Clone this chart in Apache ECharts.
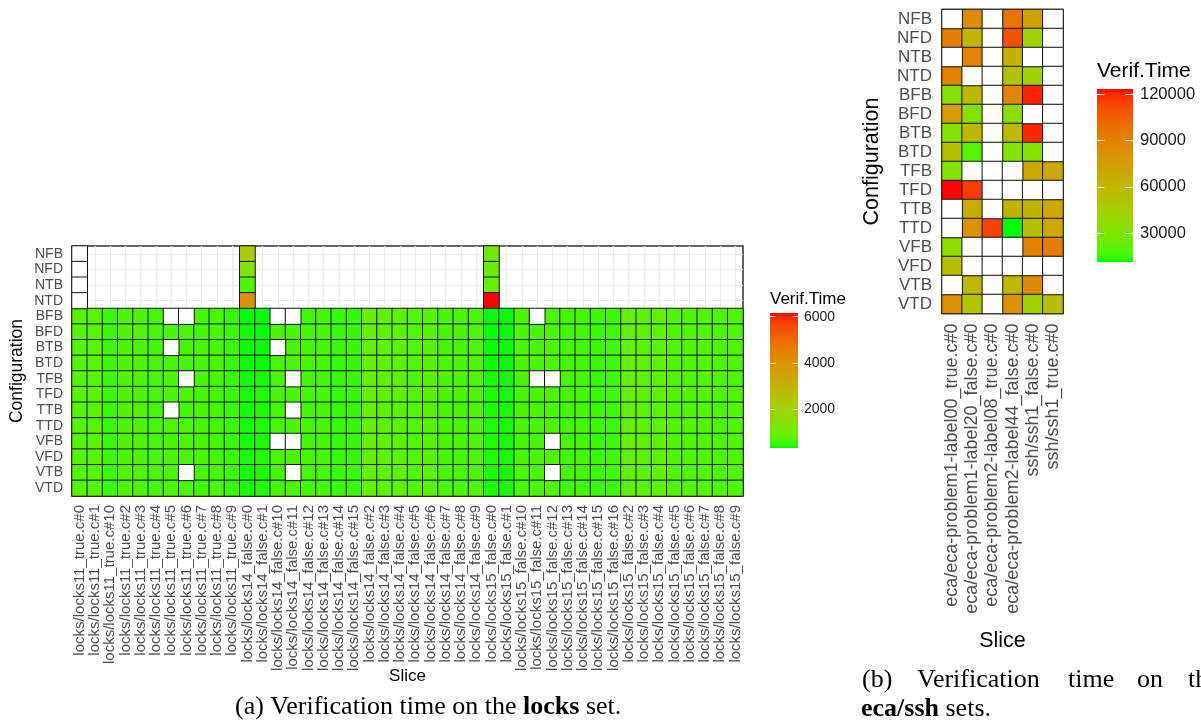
<!DOCTYPE html>
<html>
<head>
<meta charset="utf-8">
<script src="https://cdn.jsdelivr.net/npm/echarts@6/dist/echarts.min.js"></script>
<style>html,body{margin:0;padding:0;background:#fff}#c{width:1201px;height:721px}</style>
</head>
<body>
<div id="c"></div>
<script>
// ---------------- DATA ----------------
const configs = ['NFB','NFD','NTB','NTD','BFB','BFD','BTB','BTD','TFB','TFD','TTB','TTD','VFB','VFD','VTB','VTD'];

const locksSlices = [
  'locks/locks11_true.c#0','locks/locks11_true.c#1','locks/locks11_true.c#10','locks/locks11_true.c#2',
  'locks/locks11_true.c#3','locks/locks11_true.c#4','locks/locks11_true.c#5','locks/locks11_true.c#6',
  'locks/locks11_true.c#7','locks/locks11_true.c#8','locks/locks11_true.c#9',
  'locks/locks14_false.c#0','locks/locks14_false.c#1','locks/locks14_false.c#10','locks/locks14_false.c#11',
  'locks/locks14_false.c#12','locks/locks14_false.c#13','locks/locks14_false.c#14','locks/locks14_false.c#15',
  'locks/locks14_false.c#2','locks/locks14_false.c#3','locks/locks14_false.c#4','locks/locks14_false.c#5',
  'locks/locks14_false.c#6','locks/locks14_false.c#7','locks/locks14_false.c#8','locks/locks14_false.c#9',
  'locks/locks15_false.c#0','locks/locks15_false.c#1','locks/locks15_false.c#10','locks/locks15_false.c#11',
  'locks/locks15_false.c#12','locks/locks15_false.c#13','locks/locks15_false.c#14','locks/locks15_false.c#15',
  'locks/locks15_false.c#16','locks/locks15_false.c#2','locks/locks15_false.c#3','locks/locks15_false.c#4',
  'locks/locks15_false.c#5','locks/locks15_false.c#6','locks/locks15_false.c#7','locks/locks15_false.c#8',
  'locks/locks15_false.c#9'
];

// sparse cells of the N** rows: [slice, config, value] (null = NA, drawn white)
const locksTopCells = [
  ['locks/locks11_true.c#0','NFB',null],['locks/locks11_true.c#0','NFD',null],
  ['locks/locks11_true.c#0','NTB',null],['locks/locks11_true.c#0','NTD',null],
  ['locks/locks14_false.c#0','NFB',2200],['locks/locks14_false.c#0','NFD',1320],
  ['locks/locks14_false.c#0','NTB',620],['locks/locks14_false.c#0','NTD',4000],
  ['locks/locks15_false.c#0','NFB',1090],['locks/locks15_false.c#0','NFD',1030],
  ['locks/locks15_false.c#0','NTB',910],['locks/locks15_false.c#0','NTD',6160]
];

// full rows BFB..VTD, one value per slice (null = NA, drawn white)
const locksBFB = [745,735,515,655,660,605,null,null,590,600,505,330,340,null,null,585,600,520,495,905,835,815,705,735,645,640,635,345,340,640,null,640,600,590,520,535,880,830,825,720,715,720,655,700];
const locksBFD = [740,725,520,650,665,600,630,625,595,600,510,360,345,605,630,590,605,520,500,895,830,820,700,730,640,645,640,350,345,645,630,640,605,590,515,540,885,835,820,725,710,720,650,705];
const locksBTB = [735,730,525,645,655,600,null,620,590,605,510,355,350,null,635,590,600,525,500,900,825,825,695,725,640,640,645,355,350,640,635,645,600,595,520,540,875,830,815,720,705,715,650,700];
const locksBTD = [740,735,520,650,660,595,625,620,590,600,515,365,355,600,630,595,600,520,505,900,830,820,700,730,635,640,640,360,355,640,630,640,600,590,525,545,880,825,820,715,710,720,645,700];
const locksTFB = [745,730,520,655,660,600,630,null,590,600,510,380,395,600,null,590,600,520,500,930,840,830,705,735,640,640,640,395,380,640,null,null,600,590,520,540,895,835,825,720,710,725,650,700];
const locksTFD = [740,730,515,650,660,600,635,625,595,600,505,385,400,605,630,590,600,515,500,910,830,820,700,730,640,640,640,400,380,645,630,640,600,590,520,540,940,850,830,720,715,720,655,705];
const locksTTB = [740,735,520,650,665,600,null,620,590,600,510,390,405,600,null,590,600,520,500,900,830,825,700,730,645,640,640,400,385,640,635,640,605,590,520,540,890,835,820,720,710,720,650,700];
const locksTTD = [735,730,520,645,660,605,630,620,590,600,510,390,410,600,630,590,605,520,500,895,830,820,700,725,640,640,640,400,385,640,630,645,600,590,520,540,885,830,820,720,710,720,650,700];
const locksVFB = [740,730,520,650,660,600,630,620,590,600,510,390,410,null,null,590,600,520,500,905,835,820,700,730,640,640,640,405,385,640,630,null,600,590,520,540,895,840,825,720,710,720,650,700];
const locksVFD = [740,730,525,650,660,600,630,620,590,600,510,395,410,600,630,590,600,520,500,900,830,820,700,730,640,640,640,400,385,640,630,640,600,590,520,540,880,830,820,720,710,720,650,700];
const locksVTB = [745,735,520,650,660,600,630,null,590,600,510,390,405,600,null,590,600,520,500,900,830,820,700,730,640,640,640,400,385,640,630,null,600,590,520,540,885,830,820,720,710,720,650,700];
const locksVTD = [740,730,520,650,660,600,630,620,590,600,510,390,410,600,630,590,600,520,500,900,830,820,700,730,640,640,640,400,390,640,630,640,600,590,520,540,880,830,820,720,710,720,650,700];
const locksRows = {BFB:locksBFB,BFD:locksBFD,BTB:locksBTB,BTD:locksBTD,TFB:locksTFB,TFD:locksTFD,
                   TTB:locksTTB,TTD:locksTTD,VFB:locksVFB,VFD:locksVFD,VTB:locksVTB,VTD:locksVTD};

const ecaSlices = ['eca/eca-problem1-label00_true.c#0','eca/eca-problem1-label20_false.c#0',
  'eca/eca-problem2-label08_true.c#0','eca/eca-problem2-label44_false.c#0','ssh/ssh1_false.c#0','ssh/ssh1_true.c#0'];
// one row per configuration (top to bottom), one value per slice, null = NA (white)
const ecaRows = {
  NFB:[null,85000,null,97000,74000,null],
  NFD:[92000,61000,null,110000,42000,null],
  NTB:[null,90000,null,64000,null,null],
  NTD:[90000,null,null,54000,43000,null],
  BFB:[31000,58000,null,89000,120500,null],
  BFD:[78000,32000,null,36000,null,null],
  BTB:[31000,58000,null,58000,120000,null],
  BTD:[55000,18500,null,32000,32000,null],
  TFB:[32000,null,null,null,69000,69000],
  TFD:[123400,115500,null,null,null,null],
  TTB:[null,66000,null,62000,62000,70000],
  TTD:[null,80000,114000,11400,56000,70000],
  VFB:[35000,null,null,null,90000,93000],
  VFD:[55000,null,null,null,null,null],
  VTB:[null,58000,null,58000,86000,null],
  VTD:[82000,52000,null,82000,43000,54000]
};

const locksLegendTicks = [2000,4000,6000];
const ecaLegendTicks = [30000,60000,90000,120000];

// ---------------- COLOUR (Lab gradient green -> red, like ggplot) ----------------
function s2l(c){c/=255;return c<=0.04045?c/12.92:Math.pow((c+0.055)/1.055,2.4);}
function l2s(c){c=Math.max(0,Math.min(1,c));const v=c<=0.0031308?12.92*c:1.055*Math.pow(c,1/2.4)-0.055;return Math.round(Math.max(0,Math.min(1,v))*255);}
function rgb2lab(rgb){const R=s2l(rgb[0]),G=s2l(rgb[1]),B=s2l(rgb[2]);
  const X=(0.4124*R+0.3576*G+0.1805*B)/0.95047,Y=0.2126*R+0.7152*G+0.0722*B,Z=(0.0193*R+0.1192*G+0.9505*B)/1.08883;
  const f=t=>t>0.008856?Math.cbrt(t):7.787*t+16/116;const fx=f(X),fy=f(Y),fz=f(Z);
  return [116*fy-16,500*(fx-fy),200*(fy-fz)];}
function lab2rgb(lab){const fy=(lab[0]+16)/116,fx=fy+lab[1]/500,fz=fy-lab[2]/200;
  const fi=t=>t*t*t>0.008856?t*t*t:(t-16/116)/7.787;
  const X=fi(fx)*0.95047,Y=fi(fy),Z=fi(fz)*1.08883;
  return [l2s(3.2406*X-1.5372*Y-0.4986*Z),l2s(-0.9689*X+1.8758*Y+0.0415*Z),l2s(0.0557*X-0.2040*Y+1.0570*Z)];}
const labLo=rgb2lab([0,255,0]),labHi=rgb2lab([255,0,0]);
const NSTOP=49;
const palette=[];
for(let i=0;i<NSTOP;i++){const t=i/(NSTOP-1);
  const c=lab2rgb([0,1,2].map(k=>labLo[k]+(labHi[k]-labLo[k])*t));
  palette.push('rgb('+c.join(',')+')');}
const gradient={type:'linear',x:0,y:1,x2:0,y2:0,colorStops:palette.map((c,i)=>({offset:i/(NSTOP-1),color:c}))};

// ---------------- BUILD DATA ----------------
const locksVals=[],locksNA=[];
locksTopCells.forEach(([s,c,v])=>{const p=[locksSlices.indexOf(s),configs.indexOf(c)];
  if(v===null)locksNA.push(p.concat([0]));else locksVals.push(p.concat([v]));});
Object.keys(locksRows).forEach(c=>{locksRows[c].forEach((v,i)=>{const p=[i,configs.indexOf(c)];
  if(v===null)locksNA.push(p.concat([0]));else locksVals.push(p.concat([v]));});});
const ecaVals=[],ecaNA=[];
Object.keys(ecaRows).forEach(c=>{ecaRows[c].forEach((v,i)=>{const p=[i,configs.indexOf(c)];
  if(v===null)ecaNA.push(p.concat([0]));else ecaVals.push(p.concat([v]));});});
const lMin=Math.min(...locksVals.map(d=>d[2])),lMax=Math.max(...locksVals.map(d=>d[2]));
const eMin=Math.min(...ecaVals.map(d=>d[2])),eMax=Math.max(...ecaVals.map(d=>d[2]));

// ---------------- OPTION ----------------
const FONT='Liberation Sans';
const GRAY='#4D4D4D';
const cellStyle={borderColor:'#141414',borderWidth:1};
function catX(data,gi,fs,margin,nameGap,nameFs){return {type:'category',gridIndex:gi,data:data,
  axisLine:{show:false},axisTick:{show:false},
  axisLabel:{interval:0,rotate:90,fontSize:fs,color:GRAY,fontFamily:FONT,margin:margin},
  splitLine:{show:true,alignWithLabel:true,lineStyle:{color:'#EBEBEB',width:1.2}},
  name:'Slice',nameLocation:'middle',nameGap:nameGap,nameMoveOverlap:false,
  nameTextStyle:{fontSize:nameFs,color:'#000',fontFamily:FONT}};}
function catY(gi,fs,margin,nameGap,nameFs){return {type:'category',gridIndex:gi,data:configs,inverse:true,
  axisLine:{show:false},axisTick:{show:false},
  axisLabel:{interval:0,fontSize:fs,color:GRAY,fontFamily:FONT,margin:margin},
  splitLine:{show:true,alignWithLabel:true,lineStyle:{color:'#EBEBEB',width:1.2}},
  name:'Configuration',nameLocation:'middle',nameRotate:90,nameGap:nameGap,nameMoveOverlap:false,
  nameTextStyle:{fontSize:nameFs,color:'#000',fontFamily:FONT}};}
function legY(gi,min,max,ticks,pos,showLabel,fs,tickLen,margin){return {type:'value',gridIndex:gi,min:min,max:max,position:pos,z:10,
  axisLine:{show:false},splitLine:{show:false},
  axisTick:{show:true,inside:true,length:tickLen,customValues:ticks,lineStyle:{color:'rgba(255,255,255,0.85)',width:1}},
  axisLabel:{show:showLabel,customValues:ticks,formatter:v=>String(v),fontSize:fs,color:'#1a1a1a',fontFamily:FONT,margin:margin}};}
function barItem(params,api){const p0=api.coord([0,api.value(1)]),p1=api.coord([1,api.value(2)]);
  return {type:'rect',shape:{x:p0[0],y:p1[1],width:p1[0]-p0[0],height:p0[1]-p1[1]},style:{fill:gradient}};}

const option={
  animation:false,
  backgroundColor:'#fff',
  grid:[
    {left:71,top:246,width:672,height:250,show:true,borderColor:'#333',borderWidth:1.5,backgroundColor:'#fff'},
    {left:942,top:9.5,width:121,height:304,show:true,borderColor:'#333',borderWidth:1.5,backgroundColor:'#fff'},
    {left:770,top:313,width:28,height:135},
    {left:1097,top:89,width:36,height:173}
  ],
  xAxis:[
    catX(locksSlices,0,15,9,172,17),
    catX(ecaSlices,1,18,10,317,21.5),
    {type:'value',gridIndex:2,min:0,max:1,show:false},
    {type:'value',gridIndex:3,min:0,max:1,show:false}
  ],
  yAxis:[
    catY(0,14,9,46,17.5),
    catY(1,17,10,59,21.5),
    legY(2,lMin,lMax,locksLegendTicks,'left',false,14,5.5,6),
    legY(2,lMin,lMax,locksLegendTicks,'right',true,14,5.5,6),
    legY(3,eMin,eMax,ecaLegendTicks,'left',false,16.5,7.5,7),
    legY(3,eMin,eMax,ecaLegendTicks,'right',true,16.5,7.5,7)
  ],
  visualMap:[
    {type:'continuous',show:false,seriesIndex:0,dimension:2,min:lMin,max:lMax,inRange:{color:palette}},
    {type:'continuous',show:false,seriesIndex:2,dimension:2,min:eMin,max:eMax,inRange:{color:palette}}
  ],
  series:[
    {type:'heatmap',xAxisIndex:0,yAxisIndex:0,data:locksVals,itemStyle:cellStyle,emphasis:{disabled:true}},
    {type:'heatmap',xAxisIndex:0,yAxisIndex:0,data:locksNA,itemStyle:Object.assign({color:'#fff'},cellStyle),emphasis:{disabled:true}},
    {type:'heatmap',xAxisIndex:1,yAxisIndex:1,data:ecaVals,itemStyle:cellStyle,emphasis:{disabled:true}},
    {type:'heatmap',xAxisIndex:1,yAxisIndex:1,data:ecaNA,itemStyle:Object.assign({color:'#fff'},cellStyle),emphasis:{disabled:true}},
    {type:'custom',xAxisIndex:2,yAxisIndex:2,renderItem:barItem,data:[[0,lMin,lMax]],
      dimensions:['x','lo','hi'],encode:{x:0,y:[1,2]},z:2,silent:true},
    {type:'custom',xAxisIndex:3,yAxisIndex:4,renderItem:barItem,data:[[0,eMin,eMax]],
      dimensions:['x','lo','hi'],encode:{x:0,y:[1,2]},z:2,silent:true}
  ],
  graphic:[
    {type:'text',left:770,top:291,style:{text:'Verif.Time',fontSize:17,fontFamily:FONT,fill:'#000'}},
    {type:'text',left:1097,top:61,style:{text:'Verif.Time',fontSize:21,fontFamily:FONT,fill:'#000'}},
    {type:'text',x:235,y:707,style:{text:'(a) Verification time on the {b|locks} set.',fontSize:26,fontFamily:'Liberation Serif',fill:'#000',verticalAlign:'middle',
      rich:{b:{fontWeight:'bold',fontSize:26,fontFamily:'Liberation Serif'}}}},
    {type:'text',x:862,y:680,style:{text:'(b)',fontSize:26,fontFamily:'Liberation Serif',fill:'#000',verticalAlign:'middle'}},
    {type:'text',x:917,y:680,style:{text:'Verification',fontSize:26,fontFamily:'Liberation Serif',fill:'#000',verticalAlign:'middle'}},
    {type:'text',x:1068,y:680,style:{text:'time',fontSize:26,fontFamily:'Liberation Serif',fill:'#000',verticalAlign:'middle'}},
    {type:'text',x:1137,y:680,style:{text:'on',fontSize:26,fontFamily:'Liberation Serif',fill:'#000',verticalAlign:'middle'}},
    {type:'text',x:1188,y:680,style:{text:'the',fontSize:26,fontFamily:'Liberation Serif',fill:'#000',verticalAlign:'middle'}},
    {type:'text',x:861,y:709,style:{text:'{b|eca/ssh} sets.',fontSize:26,fontFamily:'Liberation Serif',fill:'#000',verticalAlign:'middle',
      rich:{b:{fontWeight:'bold',fontSize:26,fontFamily:'Liberation Serif'}}}}
  ]
};
const chart=echarts.init(document.getElementById('c'),null,{renderer:'canvas'});
chart.setOption(option);
</script>
</body>
</html>
